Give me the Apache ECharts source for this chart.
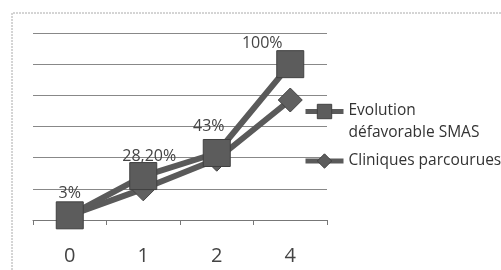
<!DOCTYPE html>
<html><head><meta charset="utf-8">
<script src="https://cdn.jsdelivr.net/npm/echarts@6/dist/echarts.min.js"></script>
<style>html,body{margin:0;padding:0;background:#fff}#c{width:501px;height:270px}</style>
</head><body><div id="c"></div>
<script>
var categories = ['0', '1', '2', '4'];
var seriesNames = ['Evolution défavorable SMAS', 'Cliniques parcourues'];
var smasValues = [3, 28.2, 43, 100];
var smasLabels = ['3%', '28,20%', '43%', '100%'];
var cliniquesValues = [3, 20, 39, 77];

var chart = echarts.init(document.getElementById('c'));
var labelOffsets = [[0, 2], [6, 4], [-8, -3], [-28, 3]];
chart.setOption({
  animation: false,
  textStyle: { fontFamily: 'Open Sans', color: '#333' },
  graphic: [{
    type: 'polyline',
    shape: { points: [[12, 270], [12, 13], [501, 13]] },
    style: { stroke: '#aaa', lineWidth: 1, lineDash: [2, 1], fill: null }
  }],
  grid: { left: 33, right: 174, top: 33, bottom: 50 },
  legend: {
    left: 298, top: 98, orient: 'vertical', itemGap: 12,
    itemWidth: 38, itemHeight: 18,
    lineStyle: { width: 5, color: '#5a5a5a' },
    itemStyle: { color: '#5c5c5c', borderColor: '#404040', borderWidth: 1 },
    formatter: function (n) {
      return n === seriesNames[0] ? '{a|Evolution}\n{b|défavorable SMAS}' : '{c|' + n + '}';
    },
    textStyle: {
      fontSize: 15.5, color: '#333', fontFamily: 'Open Sans',
      rich: {
        a: { fontSize: 15.5, color: '#333', fontFamily: 'Open Sans', lineHeight: 43 },
        b: { fontSize: 15.5, color: '#333', fontFamily: 'Open Sans', lineHeight: 1 },
        c: { fontSize: 15.5, color: '#333', fontFamily: 'Open Sans', lineHeight: 22 }
      }
    },
    data: [seriesNames[0], seriesNames[1]]
  },
  xAxis: {
    type: 'category', data: categories, boundaryGap: true,
    axisLine: { lineStyle: { color: '#777', width: 1 } },
    axisTick: { show: true, length: 5, lineStyle: { color: '#777' } },
    axisLabel: { fontSize: 20, color: '#444', margin: 26 }
  },
  yAxis: {
    type: 'value', min: 0, max: 120, interval: 20,
    axisLabel: { show: false }, axisLine: { show: false }, axisTick: { show: false },
    splitLine: { lineStyle: { color: '#888', width: 1 } }
  },
  series: [{
    name: seriesNames[1], type: 'line', data: cliniquesValues,
    symbol: 'diamond', symbolSize: 24,
    lineStyle: { color: '#5a5a5a', width: 6 },
    itemStyle: { color: '#606060', borderColor: '#444', borderWidth: 1 },
    z: 2
  }, {
    name: seriesNames[0], type: 'line',
    data: smasValues.map(function (v, i) {
      return { value: v, label: { offset: labelOffsets[i] } };
    }),
    symbol: 'rect', symbolSize: 27,
    lineStyle: { color: '#5a5a5a', width: 6 },
    itemStyle: { color: '#5c5c5c', borderColor: '#404040', borderWidth: 1 },
    label: {
      show: true, position: 'top', distance: 2, fontSize: 16, color: '#444',
      formatter: function (p) { return smasLabels[p.dataIndex]; }
    },
    z: 3
  }]
});
</script></body></html>
